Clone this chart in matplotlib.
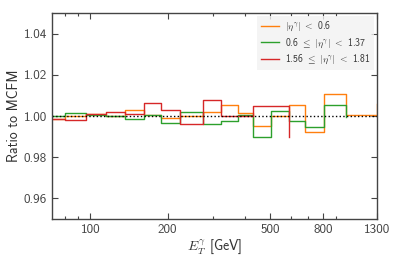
import matplotlib
matplotlib.use('Agg')
import matplotlib.pyplot as plt
from matplotlib.ticker import FixedLocator, NullFormatter

plt.rcParams['font.family'] = ['cmss10', 'DejaVu Sans']
plt.rcParams['mathtext.fontset'] = 'cm'
plt.rcParams['axes.unicode_minus'] = False

# bin left edges in E_T [GeV]
edges = [60, 80, 96, 115, 137, 162, 188, 224, 273, 322, 374, 430, 503, 592, 684, 808, 985, 1300]

central = [0.9984, 0.9998, 1.0009, 1.0000, 1.0027, 1.0005, 0.9988, 1.0000, 1.0019,
           1.0052, 1.0015, 0.9952, 1.0000, 1.0052, 0.9920, 1.0108, 1.0005, 1.0060]
middle = [0.9998, 1.0014, 1.0006, 1.0000, 0.9986, 1.0006, 0.9965, 1.0020, 0.9963,
          0.9975, 1.0005, 0.9900, 1.0024, 0.9978, 0.9948, 1.0053, 0.9993]
forward = [0.9985, 0.9982, 1.0008, 1.0019, 1.0010, 1.0064, 1.0030, 0.9963, 1.0078,
           1.0000, 0.9998, 1.0047, 1.0047, 0.9900]

labels = [r'$|\eta^\gamma|$ $<$ 0.6',
          r'0.6 $\leq$ $|\eta^\gamma|$ $<$ 1.37',
          r'1.56 $\leq$ $|\eta^\gamma|$ $<$ 1.81']
colors = ['#ff7f0e', '#2ca02c', '#d62728']

major = [100, 200, 500, 800, 1300]
minor = [80, 90, 300, 400, 600, 700, 900]

fig = plt.figure(figsize=(4.02, 2.61), dpi=100)
ax = fig.add_axes([0.129, 0.161, 0.809, 0.789])

for vals, lab, c in zip([central, middle, forward], labels, colors):
    ax.plot(edges[:len(vals)], vals, drawstyle='steps-post', color=c, lw=1.0, label=lab)

ax.axhline(1.0, color='black', ls=':', lw=1.0)

ax.set_xscale('log')
ax.set_xlim(71, 1300)
ax.set_ylim(0.95, 1.05)
ax.xaxis.set_major_locator(FixedLocator(major))
ax.xaxis.set_minor_locator(FixedLocator(minor))
ax.xaxis.set_minor_formatter(NullFormatter())
ax.set_xticklabels([str(m) for m in major])
ax.set_yticks([0.96, 0.98, 1.00, 1.02, 1.04])
ax.set_yticklabels(['0.96', '0.98', '1.00', '1.02', '1.04'])

ax.tick_params(which='both', direction='in', top=True, right=True, colors='#444444',
               labelcolor='#444444', labelsize=9.5)
ax.tick_params(which='major', length=4, width=0.8)
ax.tick_params(which='minor', length=2.5, width=0.8)
for s in ax.spines.values():
    s.set_color('#444444')
    s.set_linewidth(1.0)

ax.set_xlabel(r'$E_T^\gamma$ [GeV]', fontsize=10, color='#333333', labelpad=1)
ax.set_ylabel('Ratio to MCFM', fontsize=10, color='#333333', labelpad=2)

leg = ax.legend(loc='upper right', fontsize=7, frameon=True, fancybox=False,
                handlelength=1.8, handletextpad=0.6, borderaxespad=0.3,
                labelspacing=0.35)
leg.get_frame().set_facecolor('#f2f2f2')
leg.get_frame().set_edgecolor('none')
for t in leg.get_texts():
    t.set_color('#333333')

fig.savefig('out.png', dpi=100)
